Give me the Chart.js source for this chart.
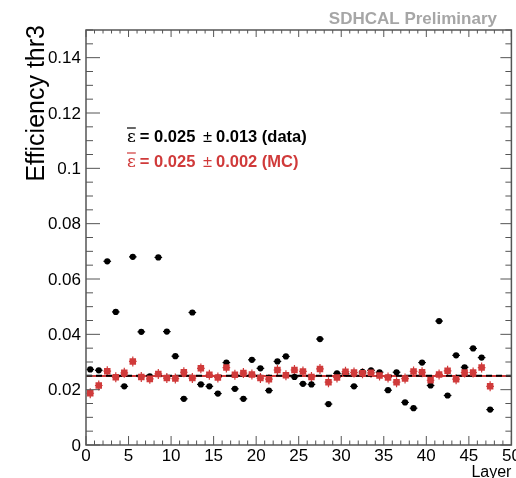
<!DOCTYPE html>
<html>
<head>
<meta charset="utf-8">
<script src="https://cdn.jsdelivr.net/npm/chart.js@4/dist/chart.umd.min.js"></script>
<style>
  html, body { margin: 0; padding: 0; background: #fff; }
  canvas { display: block; }
</style>
</head>
<body>
<canvas id="effChart" width="516" height="478"></canvas>
<script>
// layer index 0..47, plotted at bin centre
const layers = [];
for (let i = 0; i < 48; i++) layers.push(i + 0.5);

// threshold-3 efficiency per layer, data
const effData = [
  0.0273, 0.0270, 0.0664, 0.0481, 0.0212, 0.0680, 0.0409, 0.0248,
  0.0678, 0.0410, 0.0321, 0.0167, 0.0479, 0.0219, 0.0212, 0.0186,
  0.0298, 0.0203, 0.0167, 0.0308, 0.0277, 0.0197, 0.0302, 0.0320,
  0.0246, 0.0221, 0.0219, 0.0383, 0.0148, 0.0259, 0.0258, 0.0212,
  0.0264, 0.0270, 0.0263, 0.0198, 0.0263, 0.0154, 0.0133, 0.0298,
  0.0215, 0.0448, 0.0179, 0.0324, 0.0281, 0.0349, 0.0316, 0.0128
];

// same for simulation
const effMC = [
  0.0187, 0.0215, 0.0267, 0.0245, 0.0261, 0.0302, 0.0246, 0.0239,
  0.0257, 0.0242, 0.0240, 0.0263, 0.0242, 0.0277, 0.0254, 0.0244,
  0.0280, 0.0254, 0.0260, 0.0255, 0.0242, 0.0238, 0.0271, 0.0252,
  0.0271, 0.0266, 0.0246, 0.0275, 0.0227, 0.0244, 0.0265, 0.0262,
  0.0259, 0.0261, 0.0251, 0.0244, 0.0227, 0.0240, 0.0266, 0.0263,
  0.0234, 0.0255, 0.0268, 0.0238, 0.0262, 0.0262, 0.0280, 0.0212
];

// mean efficiencies (constant fits)
const meanData = 0.025;
const meanMC = 0.0249;

const xTicks = [0, 5, 10, 15, 20, 25, 30, 35, 40, 45, 50];
const yTicks = [0, 0.02, 0.04, 0.06, 0.08, 0.1, 0.12, 0.14];
const yTickLabels = ["0", "0.02", "0.04", "0.06", "0.08", "0.1", "0.12", "0.14"];

const RED = "#d03a3a";
const FRAME = "#555555";
const FONT = "'Liberation Sans', Arial, Helvetica, sans-serif";

function pts(xs, ys) {
  return xs.map((x, i) => ({ x: x, y: ys[i] }));
}

// error bars under the markers
const errorBars = {
  id: "errorBars",
  beforeDatasetsDraw(chart) {
    const ctx = chart.ctx;
    const xs = chart.scales.x, ys = chart.scales.y;
    ctx.save();
    ctx.lineWidth = 1.2;
    [[effData, "#000", 0.0], [effMC, RED, 0.0018]].forEach(([vals, col, dy]) => {
      ctx.strokeStyle = col;
      vals.forEach((v, i) => {
        const y = ys.getPixelForValue(v);
        const x = xs.getPixelForValue(layers[i]);
        ctx.beginPath();
        ctx.moveTo(xs.getPixelForValue(layers[i] - 0.45), y);
        ctx.lineTo(xs.getPixelForValue(layers[i] + 0.45), y);
        if (dy > 0) {
          ctx.moveTo(x, ys.getPixelForValue(v - dy));
          ctx.lineTo(x, ys.getPixelForValue(v + dy));
        }
        ctx.stroke();
      });
    });
    ctx.restore();
  }
};

// ROOT-style frame: box, inward ticks on all sides, labels, titles
const frame = {
  id: "frame",
  afterDraw(chart) {
    const ctx = chart.ctx;
    const a = chart.chartArea;
    const xs = chart.scales.x, ys = chart.scales.y;
    ctx.save();
    ctx.strokeStyle = FRAME;
    ctx.lineWidth = 1.5;
    ctx.strokeRect(a.left, a.top, a.right - a.left, a.bottom - a.top);

    ctx.lineWidth = 1;
    ctx.beginPath();
    for (let v = 0; v <= 50; v++) {
      const px = xs.getPixelForValue(v);
      const major = v % 5 === 0;
      ctx.moveTo(px, a.bottom); ctx.lineTo(px, a.bottom - (major ? 9 : 4.5));
      ctx.moveTo(px, a.top); ctx.lineTo(px, a.top + (major ? 7 : 3.5));
    }
    for (let k = 0; k <= 30; k++) {
      const v = k * 0.005;
      const py = ys.getPixelForValue(v);
      const major = k % 4 === 0;
      ctx.moveTo(a.left, py); ctx.lineTo(a.left + (major ? 14 : 7), py);
      ctx.moveTo(a.right, py); ctx.lineTo(a.right - (major ? 11 : 6), py);
    }
    ctx.stroke();

    ctx.fillStyle = "#000";
    ctx.font = "17px " + FONT;
    ctx.textAlign = "right";
    ctx.textBaseline = "middle";
    yTicks.forEach((v, i) => ctx.fillText(yTickLabels[i], a.left - 5, ys.getPixelForValue(v) + 1));
    ctx.textAlign = "center";
    ctx.textBaseline = "top";
    xTicks.forEach(v => ctx.fillText(String(v), xs.getPixelForValue(v), a.bottom + 3));

    // axis titles
    ctx.textAlign = "right";
    ctx.textBaseline = "alphabetic";
    ctx.font = "16px " + FONT;
    ctx.fillText("Layer", a.right, 477);
    ctx.save();
    ctx.translate(44, a.top - 5);
    ctx.rotate(-Math.PI / 2);
    ctx.font = "25px " + FONT;
    ctx.textAlign = "right";
    ctx.fillText("Efficiency thr3", 0, 0);
    ctx.restore();

    ctx.font = "bold 17px " + FONT;
    ctx.fillStyle = "#a6a6a6";
    ctx.textAlign = "right";
    ctx.fillText("SDHCAL Preliminary", 497, 24);

    // mean efficiency annotations
    const rows = [
      ["0.025", "0.013 (data)", "#000", 142],
      ["0.025", "0.002 (MC)", RED, 167]
    ];
    rows.forEach(([m, e, col, y]) => {
      ctx.fillStyle = col;
      ctx.strokeStyle = col;
      ctx.textAlign = "left";
      let x = 127;
      ctx.font = "17px 'DejaVu Serif', serif";
      ctx.fillText("\u03b5", x, y);
      const ew = ctx.measureText("\u03b5").width;
      ctx.lineWidth = 1.2;
      ctx.beginPath();
      ctx.moveTo(x, y - 14); ctx.lineTo(x + ew, y - 14);
      ctx.stroke();
      x += ew + 4;
      ctx.font = "bold 16.5px " + FONT;
      const s1 = "= " + m + " ";
      ctx.fillText(s1, x, y);
      x += ctx.measureText(s1).width + 3;
      ctx.font = "16.5px " + FONT;
      ctx.fillText("\u00b1", x, y);
      x += ctx.measureText("\u00b1").width + 4;
      ctx.font = "bold 16.5px " + FONT;
      ctx.fillText(e, x, y);
    });
    ctx.restore();
  }
};

new Chart(document.getElementById("effChart"), {
  type: "scatter",
  data: {
    datasets: [
      {
        label: "fit MC",
        type: "line",
        data: [{ x: 0, y: meanMC }, { x: 50, y: meanMC }],
        borderColor: RED,
        borderWidth: 2,
        pointRadius: 0,
        order: 4
      },
      {
        label: "fit data",
        type: "line",
        data: [{ x: 0, y: meanData }, { x: 50, y: meanData }],
        borderColor: "#000",
        borderWidth: 2,
        borderDash: [6, 4],
        pointRadius: 0,
        order: 3
      },
      {
        label: "data",
        data: pts(layers, effData),
        backgroundColor: "#000",
        borderColor: "#000",
        pointStyle: "circle",
        pointRadius: 3.1,
        borderWidth: 0,
        order: 2
      },
      {
        label: "MC",
        data: pts(layers, effMC),
        backgroundColor: RED,
        borderColor: RED,
        pointStyle: "rect",
        pointRadius: 4.6,
        borderWidth: 0,
        order: 1
      }
    ]
  },
  options: {
    responsive: false,
    animation: false,
    layout: { padding: { left: 86, right: 4, top: 30, bottom: 33 } },
    plugins: { legend: { display: false }, tooltip: { enabled: false } },
    scales: {
      x: { type: "linear", min: 0, max: 50, display: false },
      y: { type: "linear", min: 0, max: 0.15, display: false }
    }
  },
  plugins: [errorBars, frame]
});
</script>
</body>
</html>
